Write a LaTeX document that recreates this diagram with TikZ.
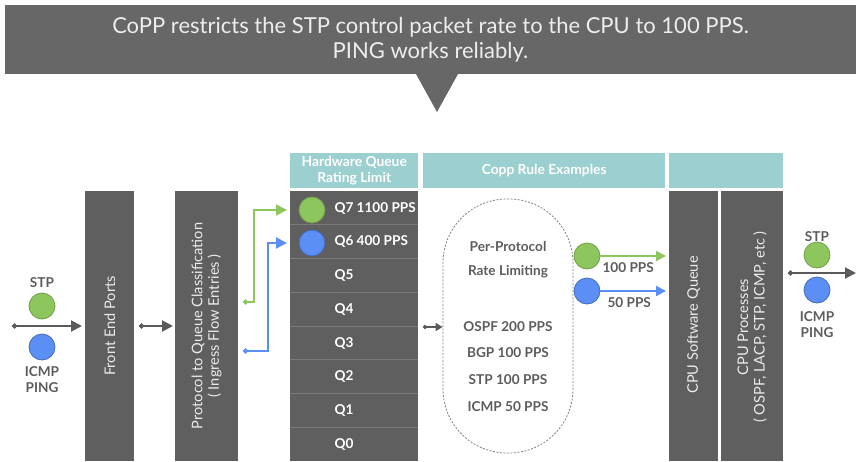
\documentclass[tikz,border=0pt]{standalone}
\usepackage{fontspec}
\setmainfont{Lato}
\usetikzlibrary{positioning}
\usetikzlibrary{arrows.meta}
\definecolor{boxgray}{HTML}{5F5F5F}
\definecolor{bannergray}{HTML}{676767}
\definecolor{headteal}{HTML}{9BCFD0}
\definecolor{stpgreen}{HTML}{8DC65C}
\definecolor{icmpblue}{HTML}{5B8FF6}
\definecolor{arrowgray}{HTML}{5A5A5A}
\definecolor{labelgray}{HTML}{5C5C5C}
\definecolor{rowgray}{HTML}{7A7A7A}
\tikzset{x=1pt, y=-1pt,
darkbox/.style={ % Tall grey columns
fill=boxgray, inner sep=0pt, anchor=north west},
headbox/.style={ % Teal column headers
fill=headteal, text=white, inner sep=0pt, anchor=north west,
minimum height=35pt, align=center,
font=\bfseries\fontsize{13.8}{16}\selectfont},
coltext/.style={text=white!92!black, rotate=90, align=center,
font=\fontsize{14.6}{16.5}\selectfont},
pkt/.style={circle, minimum size=26pt, inner sep=0pt, line width=0.8pt},
stp/.style={pkt, fill=stpgreen, draw=stpgreen!80!black},
icmp/.style={pkt, fill=icmpblue, draw=icmpblue!75!black},
lbl/.style={text=labelgray, font=\bfseries\fontsize{13.6}{15}\selectfont},
qlbl/.style={lbl, text=white, anchor=west},
flow/.style={ % Grey packet flow with dot at the tail
draw=arrowgray, line width=2pt,
{Circle[length=5pt]}-{Triangle[length=11pt,width=11pt]}},
gflow/.style={flow, draw=stpgreen},
bflow/.style={flow, draw=icmpblue}}

\begin{document}
\begin{tikzpicture}
	\useasboundingbox (0,0) rectangle (856,461);
	% banner
	\node[fill=bannergray, text=white!93!black, minimum width=851pt, minimum height=69pt,
		align=center, font=\fontsize{22}{25}\selectfont] (banner) at (430.5,39.5)
		{CoPP restricts the STP control packet rate to the CPU to 100 PPS.\\PING works reliably.};
	\coordinate (tipL) at (416,74);
	\coordinate (tipR) at (458,74);
	\coordinate (tip) at (437,112);
	\fill[bannergray] (tipL) -- (tip) -- (tipR) -- cycle;
	% columns
	\node[darkbox, minimum width=49pt, minimum height=270pt] (fep) at (85,191) {};
	\node[coltext] at (fep.center |- 0,326) {Front End Ports};
	\node[darkbox, minimum width=63pt, minimum height=270pt] (pqc) at (175,191) {};
	\node[coltext] at (pqc.center |- 0,326) {Protocol to Queue Classification\\( Ingress Flow Entries )};
	\node[headbox, minimum width=128pt] (hwhead) at (290,153) {Hardware Queue\\Rating Limit};
	\node[headbox, minimum width=242pt] (rulehead) at (423,153) {Copp Rule Examples};
	\node[headbox, minimum width=114pt] (cpuhead) at (669,153) {};
	\node[darkbox, minimum width=128pt, minimum height=270pt] (hwq) at (290,191) {};
	\node[darkbox, minimum width=49pt, minimum height=270pt] (cpuq) at (669,191) {};
	\node[coltext] at (cpuq.center |- 0,325) {CPU Software Queue};
	\node[darkbox, minimum width=62pt, minimum height=270pt] (cpup) at (721,191) {};
	\node[coltext] at (cpup.center |- 0,327) {CPU Processes\\( OSPF, LACP, STP, ICMP, etc )};
	% queues
	\foreach \t [count=\i from 0] in {Q7 1100 PPS,Q6 400 PPS,Q5,Q4,Q3,Q2,Q1,Q0}{
		\node[qlbl] (q\i) at (331,{208+\i*33.75}) {\t};
		\ifnum\i<7 \draw[rowgray, line width=0.8pt] (290,{191+(\i+1)*33.75}) -- ++(128,0); \fi
	}
	\node[stp] (qstp) at (312,210) {};
	\node[icmp] (qicmp) at (312,243) {};
	% input packets
	\node[lbl] (instp) at (42,283) {STP};
	\node[stp] (ingreen) at (42,306) {};
	\node[icmp] (inblue) at (42,347) {};
	\node[lbl, align=center, font=\bfseries\fontsize{13.6}{16}\selectfont] (inicmp) at (42,380) {ICMP\\PING};
	\coordinate (in) at (12,326);
	\draw[flow, shorten >=3pt] (in) -- (fep.west |- in);
	\coordinate (mid) at (139,326);
	\draw[flow, shorten >=2pt] (mid) -- (pqc.west |- mid);
	% classification to queues
	\coordinate (g0) at (243,302);
	\coordinate (b0) at (243,351);
	\draw[gflow, shorten >=3pt] (g0) -- ++(11,0) |- (hwq.west |- qstp);
	\draw[bflow, shorten >=3pt] (b0) -- ++(25,0) |- (hwq.west |- qicmp);
	% copp rules
	\node[draw=gray, dashed, dash pattern=on 2pt off 1.5pt, line width=0.8pt,
		rounded corners=64pt, minimum width=130pt, minimum height=254pt] (rules) at (508,326) {};
	\coordinate (r0) at (423,327);
	\draw[flow, line width=1.5pt, {Circle[length=4pt]}-{Triangle[length=7pt,width=8pt]}] (r0) -- (rules.west |- r0);
	\foreach \t/\y [count=\i] in {Per-Protocol/246, Rate Limiting/272, OSPF 200 PPS/327,
		BGP 100 PPS/353, STP 100 PPS/380, ICMP 50 PPS/407}{
		\node[lbl] (rule\i) at (508,\y) {\t};
	}
	\node[stp] (cstp) at (587,256) {};
	\node[icmp] (cicmp) at (587,291) {};
	\draw[draw=stpgreen, line width=2pt, -{Triangle[length=10pt,width=10pt]}, shorten >=3pt] (cstp.east) -- (cpuq.west |- cstp);
	\draw[draw=icmpblue, line width=2pt, -{Triangle[length=10pt,width=10pt]}, shorten >=3pt] (cicmp.east) -- (cpuq.west |- cicmp);
	\node[lbl, anchor=north west] (crate1) at (599,259) {100 PPS};
	\node[lbl, anchor=north west] (crate2) at (604,294) {50 PPS};
	% output packets
	\node[lbl] (outstp) at (817,237) {STP};
	\node[stp] (outgreen) at (817,255) {};
	\node[icmp] (outblue) at (817,290) {};
	\node[lbl, align=center, font=\bfseries\fontsize{13.6}{16}\selectfont] (outicmp) at (817,325) {ICMP\\PING};
	\coordinate (o0) at (788,273);
	\coordinate (o1) at (856,273);
	\draw[flow] (o0) -- (o1);
\end{tikzpicture}
\end{document}
